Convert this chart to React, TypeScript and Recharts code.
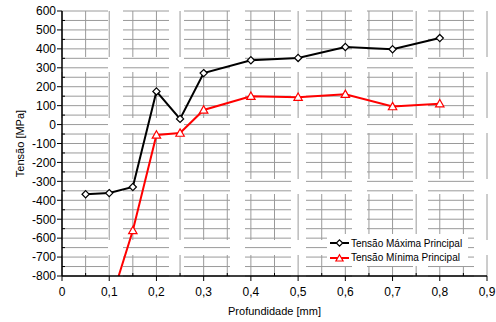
import React from 'react';
import { LineChart, Line, XAxis, YAxis, CartesianGrid } from 'recharts';

// profundidade [mm] e tensões [MPa]
const profundidade = [0.05, 0.1, 0.15, 0.2, 0.25, 0.3, 0.4, 0.5, 0.6, 0.7, 0.8];
const tensaoMaxima = [-368, -362, -330, 175, 30, 272, 340, 352, 410, 398, 457];
const tensaoMinima = [null, -960, -560, -55, -45, 77, 150, 145, 160, 95, 110];

const xTicks = [0, 0.1, 0.2, 0.3, 0.4, 0.5, 0.6, 0.7, 0.8, 0.9];
const xMinorTicks = [0.05, 0.15, 0.25, 0.35, 0.45, 0.55, 0.65, 0.75, 0.85];
const yTicks = [-800, -700, -600, -500, -400, -300, -200, -100, 0, 100, 200, 300, 400, 500, 600];
const yMinorTicks = [-750, -650, -550, -450, -350, -250, -150, -50, 50, 150, 250, 350, 450, 550];

const SERIES_MAX = 'Tensão Máxima Principal';
const SERIES_MIN = 'Tensão Mínima Principal';

const FONT = '"Liberation Sans", Arial, sans-serif';

const data = profundidade.map((x, i) => ({
  x,
  max: tensaoMaxima[i],
  min: tensaoMinima[i],
}));

const fmt = (v: number) => String(v).replace('.', ',');

const XTick = (props: any) => {
  const { x, y, payload } = props;
  const ay = y - 8;
  if (xTicks.includes(payload.value)) {
    return (
      <g>
        <line x1={x} x2={x} y1={ay} y2={ay + 5} stroke="#000" />
        <text x={x} y={ay + 20} textAnchor="middle" fontSize={12} fontFamily={FONT} fill="#000">
          {fmt(payload.value)}
        </text>
      </g>
    );
  }
  return <line x1={x} x2={x} y1={ay - 3} y2={ay} stroke="#000" />;
};

const YTick = (props: any) => {
  const { x, y, payload } = props;
  const ax = x + 8;
  if (yTicks.includes(payload.value)) {
    return (
      <g>
        <line x1={ax - 5} x2={ax} y1={y} y2={y} stroke="#000" />
        <text x={ax - 6} y={y + 4.3} textAnchor="end" fontSize={12} fontFamily={FONT} fill="#000">
          {payload.value}
        </text>
      </g>
    );
  }
  return <line x1={ax} x2={ax + 3} y1={y} y2={y} stroke="#000" />;
};

const XTitle = (props: any) => {
  const vb = props.viewBox || { x: 62, y: 276, width: 425 };
  return (
    <text x={vb.x + vb.width / 2} y={vb.y + 39} textAnchor="middle" fontSize={11} fontFamily={FONT} fill="#000">
      Profundidade [mm]
    </text>
  );
};

const YTitle = (props: any) => {
  const vb = props.viewBox || { x: 0, y: 11, height: 265 };
  const cx = vb.x + 23.5;
  const cy = vb.y + vb.height / 2;
  return (
    <text
      x={cx}
      y={cy}
      transform={`rotate(-90 ${cx} ${cy})`}
      textAnchor="middle"
      fontSize={11}
      fontFamily={FONT}
      fill="#000"
    >
      Tensão [MPa]
    </text>
  );
};

const diamond = (cx: number, cy: number, r = 3.6) =>
  `M${cx},${cy - r} L${cx + r},${cy} L${cx},${cy + r} L${cx - r},${cy} Z`;

const triangle = (cx: number, cy: number, r = 4.2) =>
  `M${cx},${cy - r} L${cx + r},${cy + r * 0.75} L${cx - r},${cy + r * 0.75} Z`;

const renderDiamond = (p: any) => {
  if (p.cx == null || p.cy == null || p.value == null) return <g key={p.index} />;
  return <path key={p.index} d={diamond(p.cx, p.cy)} fill="#fff" stroke="#000" strokeWidth={1.2} />;
};

const renderTriangle = (p: any) => {
  if (p.cx == null || p.cy == null || p.value == null) return <g key={p.index} />;
  return <path key={p.index} d={triangle(p.cx, p.cy)} fill="#fff" stroke="#ff0000" strokeWidth={1.2} />;
};

const LegendBox = () => (
  <div
    style={{
      position: 'absolute',
      left: 327,
      top: 234,
      width: 141,
      height: 32,
      background: '#fff',
      fontFamily: FONT,
      fontSize: 10,
      color: '#000',
    }}
  >
    {[
      { name: SERIES_MAX, color: '#000', shape: 'd' },
      { name: SERIES_MIN, color: '#ff0000', shape: 't' },
    ].map((item, i) => (
      <div key={item.name} style={{ position: 'absolute', left: 0, top: 2 + i * 14.5, height: 14, display: 'flex', alignItems: 'center' }}>
        <svg width={24} height={14} style={{ display: 'block' }}>
          <line x1={3} x2={22} y1={7} y2={7} stroke={item.color} strokeWidth={2} />
          <path
            d={item.shape === 'd' ? diamond(12.5, 7, 3.2) : triangle(12.5, 7.3, 3.6)}
            fill="#fff"
            stroke={item.color}
            strokeWidth={1.2}
          />
        </svg>
        <span style={{ whiteSpace: 'nowrap' }}>{item.name}</span>
      </div>
    ))}
  </div>
);

export default function App() {
  return (
    <div style={{ position: 'absolute', left: 0, top: 0, width: 496, height: 322, background: '#fff' }}>
      <LineChart width={496} height={322} data={data} margin={{ top: 11, right: 9, left: 0, bottom: 0 }}>
        <CartesianGrid stroke="#9a9a9a" strokeDasharray="46 15" />
        <XAxis
          dataKey="x"
          type="number"
          domain={[0, 0.9]}
          ticks={[...xTicks, ...xMinorTicks].sort((a, b) => a - b)}
          interval={0}
          allowDataOverflow
          height={46}
          tickSize={5}
          tickMargin={3}
          tickLine={false}
          axisLine={{ stroke: '#000', strokeWidth: 1.5 }}
          tick={(p: any) => <XTick {...p} />}
          label={<XTitle />}
        />
        <XAxis
          xAxisId="top"
          orientation="top"
          dataKey="x"
          type="number"
          domain={[0, 0.9]}
          height={0}
          tick={false}
          tickLine={false}
          axisLine={{ stroke: '#333', strokeWidth: 1 }}
        />
        <YAxis
          type="number"
          domain={[-800, 600]}
          ticks={[...yTicks, ...yMinorTicks].sort((a, b) => a - b)}
          interval={0}
          allowDataOverflow
          width={62}
          tickSize={5}
          tickMargin={3}
          tickLine={false}
          axisLine={{ stroke: '#000', strokeWidth: 1.5 }}
          tick={(p: any) => <YTick {...p} />}
          label={<YTitle />}
        />
        <YAxis
          yAxisId="right"
          orientation="right"
          type="number"
          domain={[-800, 600]}
          width={0}
          tick={false}
          tickLine={false}
          axisLine={{ stroke: '#333', strokeWidth: 1 }}
        />
        <Line
          type="linear"
          dataKey="max"
          name={SERIES_MAX}
          stroke="#000"
          strokeWidth={2}
          dot={renderDiamond}
          activeDot={false}
          isAnimationActive={false}
        />
        <Line
          type="linear"
          dataKey="min"
          name={SERIES_MIN}
          stroke="#ff0000"
          strokeWidth={2}
          dot={renderTriangle}
          activeDot={false}
          isAnimationActive={false}
        />
      </LineChart>
      <LegendBox />
    </div>
  );
}
